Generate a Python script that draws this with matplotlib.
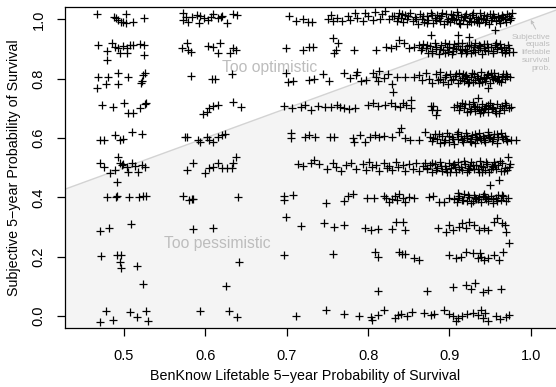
import numpy as np
import matplotlib
matplotlib.use("Agg")
import matplotlib.pyplot as plt

plt.rcParams['font.family'] = ['Liberation Sans', 'DejaVu Sans']

# jittered (lifetable prob, subjective prob) pairs
pts_100 = [(0.467, 1.018), (0.488, 1.008), (0.490, 1.005), (0.493, 0.998), (0.496, 0.991),
           (0.499, 0.990), (0.502, 1.018), (0.502, 0.988), (0.511, 0.991), (0.525, 1.004),
           (0.572, 1.021), (0.572, 0.998), (0.576, 1.008), (0.579, 0.991), (0.584, 1.008),
           (0.590, 1.015), (0.592, 0.988), (0.593, 1.011), (0.598, 1.004), (0.603, 0.998),
           (0.607, 1.008), (0.610, 1.018), (0.615, 1.004), (0.619, 1.008), (0.621, 1.011),
           (0.627, 0.988), (0.634, 1.018), (0.639, 1.015),
           (0.703, 1.010), (0.712, 0.995), (0.720, 1.002), (0.726, 0.990), (0.731, 0.992),
           (0.751, 1.000), (0.754, 1.016), (0.757, 0.993), (0.762, 1.004), (0.768, 0.995),
           (0.775, 1.012), (0.778, 0.996), (0.784, 1.020), (0.787, 1.004), (0.794, 0.993),
           (0.796, 1.020), (0.800, 1.010), (0.806, 0.996), (0.808, 1.025), (0.815, 1.002),
           (0.817, 1.018), (0.821, 1.028), (0.826, 1.000), (0.829, 1.012),
           (0.832, 1.012), (0.835, 0.995), (0.838, 1.020), (0.840, 1.004), (0.843, 0.990),
           (0.846, 1.015), (0.848, 1.000), (0.852, 1.022), (0.855, 0.993), (0.858, 1.008),
           (0.861, 0.985), (0.864, 1.017), (0.866, 1.001), (0.869, 0.992), (0.872, 1.012),
           (0.874, 0.998), (0.877, 1.021), (0.880, 0.987), (0.882, 1.006), (0.885, 1.016),
           (0.888, 0.995), (0.890, 1.010), (0.893, 0.985), (0.896, 1.019), (0.898, 1.002),
           (0.901, 0.992), (0.904, 1.013), (0.906, 0.998), (0.909, 1.023), (0.912, 0.988),
           (0.914, 1.007), (0.917, 0.996), (0.920, 1.018), (0.922, 0.984), (0.925, 1.004),
           (0.928, 1.014), (0.930, 0.993), (0.933, 1.009), (0.936, 0.987), (0.938, 1.020),
           (0.941, 1.000), (0.944, 0.991), (0.946, 1.012), (0.949, 0.985), (0.952, 1.005),
           (0.954, 1.019), (0.957, 0.994), (0.960, 1.010), (0.962, 0.988), (0.965, 1.016),
           (0.968, 1.000), (0.970, 0.992), (0.973, 1.011), (0.975, 0.998), (0.977, 1.020),
           (0.887, 1.003), (0.903, 1.005), (0.918, 1.008), (0.935, 1.002), (0.951, 0.998),
           (0.963, 1.003), (0.956, 0.964), (0.943, 1.015), (0.926, 0.990), (0.911, 1.015),
           (0.868, 1.010), (0.873, 0.989), (0.879, 1.014), (0.884, 0.996), (0.891, 1.020),
           (0.897, 0.993), (0.902, 1.017), (0.908, 1.001), (0.913, 0.984), (0.919, 1.012),
           (0.924, 0.995), (0.929, 1.022), (0.934, 0.990), (0.939, 1.006), (0.945, 0.996),
           (0.950, 1.017), (0.955, 1.009), (0.961, 0.997), (0.966, 1.008), (0.971, 1.018),
           (0.976, 1.006), (0.859, 1.000), (0.849, 1.010), (0.837, 1.005), (0.842, 1.017)]

pts_90 = [(0.468, 0.913), (0.479, 0.893), (0.479, 0.862), (0.485, 0.920), (0.489, 0.906),
          (0.493, 0.903), (0.495, 0.886), (0.499, 0.910), (0.504, 0.903), (0.504, 0.886),
          (0.507, 0.913), (0.511, 0.913), (0.520, 0.916), (0.525, 0.913), (0.525, 0.879),
          (0.571, 0.903), (0.577, 0.920), (0.579, 0.896), (0.582, 0.890), (0.603, 0.910),
          (0.609, 0.907), (0.618, 0.920), (0.615, 0.886), (0.630, 0.886), (0.634, 0.903),
          (0.638, 0.896),
          (0.699, 0.903), (0.720, 0.896), (0.727, 0.907), (0.732, 0.907), (0.757, 0.937),
          (0.763, 0.920), (0.760, 0.896), (0.758, 0.886), (0.783, 0.896), (0.810, 0.896),
          (0.822, 0.907), (0.828, 0.903), (0.834, 0.910), (0.838, 0.930), (0.844, 0.920),
          (0.850, 0.903), (0.856, 0.907), (0.877, 0.947), (0.910, 0.947), (0.924, 0.940),
          (0.973, 0.890), (0.978, 0.890),
          (0.862, 0.912), (0.865, 0.895), (0.868, 0.918), (0.871, 0.902), (0.874, 0.886),
          (0.876, 0.910), (0.879, 0.894), (0.882, 0.920), (0.884, 0.900), (0.887, 0.884),
          (0.890, 0.914), (0.892, 0.897), (0.895, 0.921), (0.898, 0.890), (0.900, 0.906),
          (0.903, 0.882), (0.906, 0.917), (0.908, 0.899), (0.911, 0.909), (0.914, 0.887),
          (0.916, 0.920), (0.919, 0.901), (0.922, 0.892), (0.924, 0.914), (0.927, 0.885),
          (0.930, 0.905), (0.932, 0.919), (0.935, 0.896), (0.938, 0.910), (0.940, 0.884),
          (0.943, 0.902), (0.946, 0.917), (0.948, 0.893), (0.951, 0.908), (0.954, 0.887),
          (0.956, 0.913), (0.959, 0.899), (0.962, 0.918), (0.964, 0.890), (0.967, 0.905),
          (0.969, 0.896), (0.972, 0.912), (0.897, 0.905), (0.913, 0.899), (0.929, 0.897),
          (0.944, 0.895), (0.958, 0.906), (0.936, 0.912), (0.921, 0.910), (0.905, 0.893),
          (0.866, 0.904), (0.872, 0.914), (0.878, 0.885), (0.883, 0.908), (0.889, 0.899),
          (0.894, 0.886), (0.899, 0.916), (0.904, 0.902), (0.910, 0.921), (0.915, 0.897),
          (0.920, 0.885), (0.926, 0.912), (0.931, 0.889), (0.937, 0.903), (0.942, 0.918),
          (0.947, 0.906), (0.953, 0.894), (0.957, 0.921), (0.963, 0.902), (0.968, 0.885),
          (0.973, 0.902)]

pts_80 = [(0.467, 0.768), (0.468, 0.805), (0.478, 0.782), (0.480, 0.805), (0.493, 0.819),
          (0.493, 0.782), (0.505, 0.805), (0.522, 0.792), (0.523, 0.812), (0.526, 0.819),
          (0.521, 0.785), (0.582, 0.809), (0.608, 0.799), (0.612, 0.799), (0.633, 0.816),
          (0.699, 0.819), (0.701, 0.789), (0.708, 0.792), (0.727, 0.795), (0.734, 0.799),
          (0.744, 0.816), (0.752, 0.792), (0.770, 0.819), (0.778, 0.802), (0.785, 0.812),
          (0.787, 0.822), (0.791, 0.792), (0.798, 0.795), (0.806, 0.819), (0.810, 0.805),
          (0.812, 0.792), (0.814, 0.826), (0.819, 0.802), (0.825, 0.816), (0.830, 0.782),
          (0.831, 0.755), (0.836, 0.805), (0.845, 0.805), (0.856, 0.805),
          (0.862, 0.812), (0.866, 0.795), (0.871, 0.818), (0.875, 0.800), (0.879, 0.786),
          (0.883, 0.814), (0.886, 0.797), (0.889, 0.822), (0.892, 0.790), (0.895, 0.806),
          (0.898, 0.783), (0.901, 0.817), (0.904, 0.799), (0.907, 0.809), (0.910, 0.787),
          (0.912, 0.820), (0.915, 0.801), (0.918, 0.792), (0.920, 0.813), (0.923, 0.784),
          (0.926, 0.806), (0.928, 0.818), (0.931, 0.795), (0.934, 0.809), (0.936, 0.786),
          (0.939, 0.821), (0.942, 0.802), (0.944, 0.792), (0.947, 0.814), (0.950, 0.785),
          (0.952, 0.807), (0.955, 0.819), (0.958, 0.796), (0.960, 0.810), (0.963, 0.788),
          (0.966, 0.815), (0.968, 0.800), (0.971, 0.808), (0.975, 0.805), (0.948, 0.768),
          (0.922, 0.800), (0.937, 0.799), (0.953, 0.798), (0.929, 0.788), (0.945, 0.801),
          (0.896, 0.812), (0.902, 0.794), (0.908, 0.816), (0.913, 0.797), (0.919, 0.808),
          (0.924, 0.789), (0.930, 0.815), (0.935, 0.803), (0.940, 0.790), (0.946, 0.811),
          (0.951, 0.820), (0.956, 0.801), (0.961, 0.793), (0.965, 0.806), (0.970, 0.817),
          (0.889, 0.800), (0.917, 0.815), (0.943, 0.807)]

pts_70 = [(0.473, 0.711), (0.486, 0.704), (0.500, 0.718), (0.505, 0.684), (0.511, 0.684),
          (0.520, 0.701), (0.526, 0.714), (0.527, 0.718), (0.597, 0.681), (0.602, 0.688),
          (0.604, 0.701), (0.609, 0.708), (0.615, 0.711), (0.634, 0.721), (0.644, 0.704),
          (0.697, 0.707), (0.707, 0.701), (0.717, 0.704), (0.722, 0.711), (0.730, 0.694),
          (0.738, 0.707), (0.747, 0.704), (0.754, 0.704), (0.762, 0.711), (0.765, 0.704),
          (0.771, 0.701), (0.777, 0.697), (0.784, 0.701), (0.800, 0.711), (0.806, 0.718),
          (0.812, 0.707), (0.821, 0.711), (0.828, 0.718), (0.833, 0.707), (0.839, 0.704),
          (0.843, 0.718), (0.847, 0.711), (0.853, 0.728), (0.853, 0.701), (0.877, 0.707),
          (0.880, 0.707), (0.885, 0.694), (0.884, 0.678), (0.906, 0.704),
          (0.909, 0.712), (0.912, 0.694), (0.915, 0.718), (0.918, 0.700), (0.921, 0.686),
          (0.924, 0.713), (0.926, 0.697), (0.929, 0.720), (0.932, 0.690), (0.934, 0.706),
          (0.937, 0.683), (0.940, 0.716), (0.942, 0.699), (0.945, 0.709), (0.948, 0.688),
          (0.950, 0.719), (0.953, 0.702), (0.956, 0.692), (0.958, 0.713), (0.961, 0.685),
          (0.964, 0.707), (0.967, 0.696), (0.970, 0.712), (0.973, 0.700), (0.976, 0.706),
          (0.935, 0.735), (0.944, 0.701), (0.931, 0.703), (0.952, 0.697), (0.939, 0.694),
          (0.913, 0.707), (0.919, 0.715), (0.925, 0.690), (0.930, 0.709), (0.936, 0.697),
          (0.941, 0.686), (0.947, 0.712), (0.952, 0.705), (0.957, 0.683), (0.962, 0.700),
          (0.968, 0.717), (0.879, 0.696)]

pts_60 = [(0.471, 0.593), (0.475, 0.593), (0.489, 0.610), (0.495, 0.593), (0.499, 0.597),
          (0.510, 0.620), (0.522, 0.613), (0.575, 0.603), (0.577, 0.603), (0.591, 0.593),
          (0.593, 0.586), (0.602, 0.603), (0.604, 0.593), (0.609, 0.586), (0.615, 0.603),
          (0.620, 0.610), (0.624, 0.613),
          (0.705, 0.617), (0.705, 0.600), (0.722, 0.603), (0.728, 0.610), (0.735, 0.603),
          (0.753, 0.603), (0.758, 0.603), (0.782, 0.600), (0.783, 0.586), (0.790, 0.610),
          (0.796, 0.586), (0.802, 0.603), (0.808, 0.610), (0.813, 0.603), (0.819, 0.606),
          (0.829, 0.603), (0.838, 0.620), (0.840, 0.633), (0.845, 0.600), (0.851, 0.593),
          (0.862, 0.593), (0.870, 0.620), (0.976, 0.593), (0.982, 0.593),
          (0.876, 0.605), (0.879, 0.590), (0.882, 0.612), (0.885, 0.597), (0.888, 0.584),
          (0.891, 0.608), (0.894, 0.594), (0.897, 0.617), (0.900, 0.588), (0.903, 0.603),
          (0.906, 0.581), (0.909, 0.614), (0.911, 0.598), (0.914, 0.606), (0.917, 0.586),
          (0.920, 0.618), (0.922, 0.600), (0.925, 0.591), (0.928, 0.611), (0.931, 0.583),
          (0.933, 0.604), (0.936, 0.616), (0.939, 0.594), (0.941, 0.607), (0.944, 0.586),
          (0.947, 0.619), (0.950, 0.599), (0.952, 0.590), (0.955, 0.612), (0.958, 0.584),
          (0.960, 0.605), (0.963, 0.617), (0.966, 0.595), (0.968, 0.608), (0.971, 0.589),
          (0.918, 0.601), (0.934, 0.598), (0.949, 0.603), (0.927, 0.596), (0.943, 0.600),
          (0.880, 0.601), (0.887, 0.613), (0.893, 0.585), (0.899, 0.608), (0.905, 0.597),
          (0.910, 0.620), (0.916, 0.592), (0.921, 0.607), (0.927, 0.585), (0.932, 0.614),
          (0.938, 0.600), (0.943, 0.593), (0.948, 0.610), (0.954, 0.598), (0.959, 0.615),
          (0.964, 0.602), (0.969, 0.598)]

pts_50 = [(0.471, 0.516), (0.475, 0.502), (0.483, 0.482), (0.489, 0.492), (0.493, 0.536),
          (0.491, 0.452), (0.495, 0.516), (0.498, 0.509), (0.499, 0.512), (0.504, 0.502),
          (0.505, 0.485), (0.510, 0.516), (0.514, 0.506), (0.517, 0.485), (0.522, 0.509),
          (0.526, 0.502), (0.577, 0.492), (0.585, 0.516), (0.600, 0.482), (0.604, 0.499),
          (0.609, 0.502), (0.615, 0.516), (0.620, 0.499), (0.627, 0.499), (0.633, 0.499),
          (0.634, 0.516), (0.638, 0.536),
          (0.714, 0.512), (0.720, 0.506), (0.730, 0.516), (0.734, 0.526), (0.740, 0.512),
          (0.749, 0.496), (0.757, 0.516), (0.761, 0.502), (0.767, 0.489), (0.773, 0.509),
          (0.779, 0.516), (0.785, 0.496), (0.794, 0.512), (0.797, 0.492), (0.801, 0.519),
          (0.805, 0.502), (0.810, 0.509), (0.814, 0.489), (0.819, 0.516), (0.823, 0.499),
          (0.826, 0.506), (0.830, 0.492), (0.834, 0.519), (0.837, 0.502), (0.843, 0.509),
          (0.846, 0.489), (0.850, 0.512), (0.855, 0.496), (0.859, 0.516), (0.862, 0.489),
          (0.867, 0.506), (0.870, 0.516), (0.873, 0.495), (0.876, 0.509), (0.879, 0.486),
          (0.882, 0.513), (0.885, 0.499), (0.888, 0.519), (0.891, 0.490), (0.894, 0.505),
          (0.897, 0.484), (0.900, 0.517), (0.902, 0.498), (0.905, 0.510), (0.908, 0.487),
          (0.911, 0.520), (0.914, 0.501), (0.916, 0.492), (0.919, 0.513), (0.922, 0.484),
          (0.925, 0.506), (0.927, 0.518), (0.930, 0.495), (0.933, 0.509), (0.936, 0.486),
          (0.938, 0.521), (0.941, 0.502), (0.944, 0.492), (0.946, 0.514), (0.949, 0.485),
          (0.952, 0.507), (0.955, 0.519), (0.957, 0.496), (0.960, 0.510), (0.963, 0.488),
          (0.965, 0.515), (0.968, 0.500), (0.971, 0.493), (0.974, 0.511), (0.972, 0.536),
          (0.907, 0.503), (0.923, 0.498), (0.939, 0.505), (0.954, 0.501), (0.961, 0.458),
          (0.950, 0.441),
          (0.872, 0.500), (0.878, 0.515), (0.884, 0.491), (0.890, 0.507), (0.896, 0.497),
          (0.901, 0.485), (0.906, 0.514), (0.912, 0.496), (0.918, 0.521), (0.924, 0.492),
          (0.929, 0.508), (0.935, 0.497), (0.940, 0.486), (0.945, 0.518), (0.951, 0.495),
          (0.956, 0.508), (0.962, 0.522), (0.967, 0.490), (0.973, 0.502)]

pts_40 = [(0.479, 0.401), (0.490, 0.401), (0.491, 0.404), (0.506, 0.401), (0.518, 0.401),
          (0.523, 0.404), (0.527, 0.404), (0.572, 0.404), (0.580, 0.391), (0.584, 0.394),
          (0.585, 0.394), (0.640, 0.401),
          (0.697, 0.404), (0.697, 0.391), (0.708, 0.408), (0.748, 0.381), (0.771, 0.388),
          (0.775, 0.404), (0.781, 0.411), (0.799, 0.398), (0.807, 0.398), (0.820, 0.404),
          (0.822, 0.398), (0.826, 0.384), (0.829, 0.395), (0.833, 0.404), (0.836, 0.391),
          (0.838, 0.411), (0.843, 0.398), (0.846, 0.384), (0.850, 0.401), (0.856, 0.398),
          (0.875, 0.401), (0.880, 0.404), (0.887, 0.384), (0.893, 0.384), (0.899, 0.398),
          (0.910, 0.415),
          (0.906, 0.396), (0.909, 0.383), (0.912, 0.405), (0.915, 0.390), (0.918, 0.410),
          (0.921, 0.387), (0.924, 0.400), (0.927, 0.381), (0.930, 0.407), (0.933, 0.393),
          (0.936, 0.402), (0.939, 0.384), (0.942, 0.411), (0.945, 0.395), (0.948, 0.389),
          (0.951, 0.406), (0.954, 0.382), (0.957, 0.399), (0.960, 0.409), (0.963, 0.391),
          (0.966, 0.403), (0.969, 0.386), (0.972, 0.398), (0.931, 0.397), (0.944, 0.401),
          (0.911, 0.399), (0.917, 0.392), (0.923, 0.408), (0.929, 0.388), (0.935, 0.396),
          (0.941, 0.404), (0.947, 0.399), (0.953, 0.393), (0.958, 0.387), (0.964, 0.408)]

pts_30 = [(0.471, 0.286), (0.482, 0.297), (0.509, 0.310), (0.585, 0.293), (0.609, 0.297),
          (0.699, 0.334), (0.717, 0.303), (0.746, 0.313), (0.758, 0.300), (0.770, 0.307),
          (0.796, 0.297), (0.803, 0.290), (0.812, 0.293), (0.830, 0.293), (0.834, 0.317),
          (0.843, 0.317), (0.845, 0.290), (0.886, 0.297), (0.896, 0.283), (0.899, 0.307),
          (0.905, 0.290), (0.912, 0.300), (0.916, 0.313), (0.920, 0.297), (0.924, 0.317),
          (0.930, 0.307), (0.936, 0.290), (0.942, 0.297), (0.948, 0.290), (0.955, 0.317),
          (0.959, 0.330), (0.964, 0.313), (0.968, 0.307), (0.969, 0.283), (0.973, 0.246)]

pts_20 = [(0.472, 0.202), (0.491, 0.206), (0.496, 0.206), (0.495, 0.182), (0.496, 0.162),
          (0.516, 0.169), (0.641, 0.182),
          (0.697, 0.206), (0.757, 0.209), (0.808, 0.216), (0.812, 0.199), (0.838, 0.216),
          (0.842, 0.209), (0.846, 0.209), (0.856, 0.195), (0.862, 0.189), (0.899, 0.206),
          (0.908, 0.195), (0.914, 0.199), (0.920, 0.216), (0.929, 0.212), (0.935, 0.195),
          (0.937, 0.212), (0.939, 0.199), (0.942, 0.189), (0.948, 0.195), (0.955, 0.206),
          (0.961, 0.189), (0.966, 0.216)]

pts_10 = [(0.523, 0.108), (0.625, 0.101), (0.812, 0.084), (0.873, 0.084), (0.904, 0.098),
          (0.920, 0.104), (0.926, 0.091), (0.932, 0.111), (0.941, 0.081), (0.947, 0.088),
          (0.963, 0.091)]

pts_0 = [(0.471, -0.020), (0.478, 0.017), (0.486, -0.013), (0.507, 0.013), (0.516, -0.003),
         (0.527, 0.017), (0.529, -0.017), (0.594, 0.017), (0.629, 0.017), (0.639, -0.003),
         (0.711, 0.000), (0.748, 0.020), (0.771, 0.007), (0.789, 0.000), (0.803, -0.003),
         (0.805, -0.013), (0.812, 0.003), (0.819, 0.020), (0.833, -0.007), (0.837, 0.003),
         (0.841, 0.007), (0.848, 0.000), (0.854, 0.013), (0.869, 0.010), (0.877, 0.003),
         (0.881, 0.007), (0.893, 0.020), (0.899, 0.007), (0.904, 0.000), (0.910, -0.007),
         (0.908, -0.017), (0.916, 0.000), (0.921, 0.007), (0.929, 0.010), (0.935, 0.003),
         (0.939, 0.020), (0.941, -0.007), (0.944, 0.010), (0.947, -0.017), (0.957, 0.000),
         (0.962, -0.010), (0.969, -0.003), (0.973, 0.003)]

all_pts = pts_100 + pts_90 + pts_80 + pts_70 + pts_60 + pts_50 + pts_40 + pts_30 + pts_20 + pts_10 + pts_0
lifetable = np.array([p[0] for p in all_pts])
subjective = np.array([p[1] for p in all_pts])

xticks = [0.5, 0.6, 0.7, 0.8, 0.9, 1.0]
yticks = [0.0, 0.2, 0.4, 0.6, 0.8, 1.0]
xlim = (0.4275, 1.074)
ylim = (-0.0394, 1.0415)

W, H = 556, 387
fig = plt.figure(figsize=(W / 100, H / 100), dpi=100)
ax = fig.add_axes([65 / W, 59.3 / H, (591 - 65) / W, (380 - 59.3) / H])
ax.set_xlim(*xlim)
ax.set_ylim(*ylim)

# shade region where subjective < lifetable
diag = np.array([xlim[0] - 0.1, xlim[1] + 0.1])
ax.fill_between(diag, ylim[0] - 0.1, diag, color='#f4f4f4', zorder=0, linewidth=0)
ax.plot(diag, diag, color='#d3d3d3', linewidth=1.0, zorder=1)

ax.plot(lifetable, subjective, linestyle='none', marker='+', markersize=5.2,
        markeredgewidth=0.9, color='black', zorder=3)

ax.text(0.679, 0.839, 'Too optimistic', color='#bdbdbd', fontsize=11.3,
        ha='center', va='center', zorder=2)
ax.text(0.615, 0.246, 'Too pessimistic', color='#bdbdbd', fontsize=11.3,
        ha='center', va='center', zorder=2)
ax.text(1.0246, 0.888, 'Subjective\nequals\nlifetable\nsurvival\nprob.', color='#bdbdbd',
        fontsize=6, ha='right', va='center', linespacing=1.15, zorder=2)
ax.annotate('', xy=(1.0, 0.998), xytext=(1.006, 0.967),
            arrowprops=dict(arrowstyle='->', color='#bdbdbd', lw=0.7,
                            mutation_scale=5, shrinkA=0, shrinkB=0))

ax.set_xticks(xticks)
ax.set_xticklabels(['%.1f' % v for v in xticks])
ax.set_yticks(yticks)
ax.set_yticklabels(['%.1f' % v for v in yticks], rotation=90, va='center')
ax.tick_params(direction='out', length=6, width=0.9, labelsize=10.5, colors='black')
ax.tick_params(axis='x', pad=9)
ax.tick_params(axis='y', pad=8)

ax.set_xlabel('BenKnow Lifetable 5\u2212year Probability of Survival', fontsize=10.3)
ax.set_ylabel('Subjective 5\u2212year Probability of Survival', fontsize=10.3)
ax.xaxis.set_label_coords((305 - 65) / (591 - 65), -(369 - 327.7) / (380 - 59.3))
ax.yaxis.set_label_coords(-(65 - 21) / (591 - 65), 0.5)

for s in ['top', 'left', 'bottom', 'right']:
    ax.spines[s].set_linewidth(0.9)
    ax.spines[s].set_color('black')

fig.savefig('out.png', dpi=100)
